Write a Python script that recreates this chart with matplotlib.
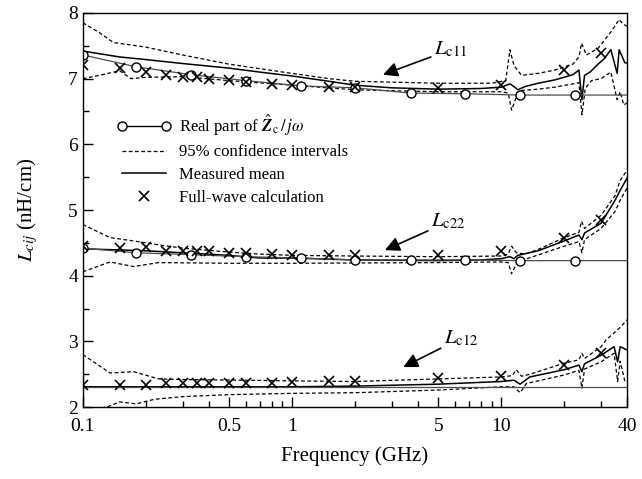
import numpy as np
import matplotlib
matplotlib.use("Agg")
import matplotlib.pyplot as plt
from matplotlib.ticker import FixedLocator, NullFormatter
from matplotlib.lines import Line2D
from matplotlib.legend_handler import HandlerLine2D

plt.rcParams['font.family'] = ['Liberation Serif', 'DejaVu Serif']
plt.rcParams['mathtext.fontset'] = 'stix'

# full-wave calculation frequencies (GHz)
f_fw = [0.1, 0.15, 0.2, 0.25, 0.3, 0.35, 0.4, 0.5, 0.6, 0.8, 1, 1.5, 2, 5, 10, 20, 30]
l11_fw = [7.21, 7.16, 7.10, 7.06, 7.03, 7.02, 7.00, 6.98, 6.95, 6.92, 6.90, 6.87, 6.87, 6.85, 6.90, 7.13, 7.39]
l22_fw = [4.45, 4.42, 4.44, 4.38, 4.38, 4.37, 4.37, 4.35, 4.34, 4.33, 4.32, 4.32, 4.32, 4.32, 4.37, 4.58, 4.85]
l12_fw = [2.33, 2.34, 2.34, 2.37, 2.37, 2.37, 2.37, 2.37, 2.37, 2.37, 2.38, 2.40, 2.40, 2.44, 2.48, 2.64, 2.83]

# real part of Zc/jw (circles), last point only extends the line
f_re = [0.1, 0.18, 0.33, 0.6, 1.1, 2.0, 3.7, 6.7, 12.3, 22.6, 40]
l11_re = [7.36, 7.18, 7.06, 6.97, 6.89, 6.86, 6.78, 6.77, 6.75, 6.75, 6.75]
l22_re = [4.42, 4.35, 4.32, 4.29, 4.27, 4.24, 4.24, 4.24, 4.23, 4.23, 4.23]
l12_re = [2.31, 2.31, 2.31, 2.31, 2.31, 2.31, 2.31, 2.31, 2.31, 2.31, 2.31]

# Lc11 measured mean and 95% confidence limits
f11_m = [0.1, 0.15, 0.2, 0.3, 0.5, 0.7, 1, 1.5, 2, 3, 5, 8, 10, 11, 11.5, 12, 13, 15, 18, 22, 23.5, 24.3,
         25, 26.6, 29, 31, 33.4, 35.8, 36.6, 39, 40]
l11_m = [7.42, 7.33, 7.29, 7.23, 7.16, 7.10, 7.04, 6.96, 6.90, 6.86, 6.84, 6.85, 6.87, 6.92, 6.88, 6.83, 6.88,
         6.93, 6.98, 7.06, 7.13, 6.68, 7.05, 7.10, 7.22, 7.30, 7.44, 7.08, 7.44, 7.24, 7.24]
f11_u = [0.1, 0.12, 0.14, 0.2, 0.3, 0.5, 1, 1.5, 2, 5, 9, 10.5, 11, 11.5, 12.5, 15, 18, 22, 23.5, 24.2, 25.5,
         29, 33.4, 36.6, 38.5, 40]
l11_u = [7.85, 7.70, 7.55, 7.48, 7.36, 7.22, 7.08, 7.00, 6.96, 6.93, 6.93, 6.97, 7.44, 7.20, 7.05, 7.08, 7.13,
         7.22, 7.33, 7.54, 7.36, 7.46, 7.71, 7.90, 7.82, 7.80]
f11_l = [0.1, 0.12, 0.15, 0.17, 0.2, 0.3, 0.5, 1, 2, 5, 10, 10.8, 11.2, 11.8, 12.5, 15, 18, 22, 23.5, 24.3,
         25.2, 27, 30, 33.4, 35.8, 37, 38.5, 40]
l11_l = [7.00, 7.05, 7.12, 7.00, 7.02, 7.03, 6.97, 6.90, 6.83, 6.80, 6.80, 6.78, 6.52, 6.72, 6.82, 6.84, 6.87,
         6.92, 6.94, 6.45, 6.85, 6.97, 7.00, 7.10, 6.68, 6.80, 6.60, 6.63]

# Lc22 measured mean and 95% confidence limits
f22_m = [0.1, 0.2, 0.5, 0.7, 1, 2, 5, 8, 10, 11, 11.5, 12, 15, 20, 23.5, 24.3, 25, 30, 35, 37, 40]
l22_m = [4.41, 4.38, 4.31, 4.27, 4.27, 4.24, 4.23, 4.24, 4.26, 4.29, 4.26, 4.31, 4.38, 4.53, 4.62, 4.55, 4.65,
         4.80, 5.15, 5.30, 5.49]
f22_u = [0.1, 0.135, 0.175, 0.23, 0.3, 0.5, 0.7, 1, 2, 5, 10, 10.8, 11.2, 11.8, 13, 15, 20, 23.5, 24.2, 25,
         30, 35, 37, 40]
l22_u = [4.78, 4.58, 4.53, 4.47, 4.42, 4.36, 4.33, 4.31, 4.30, 4.29, 4.30, 4.33, 4.45, 4.35, 4.33, 4.40, 4.58,
         4.66, 4.83, 4.72, 4.92, 5.22, 5.45, 5.61]
f22_l = [0.1, 0.135, 0.175, 0.23, 0.5, 1, 5, 10, 10.8, 11.2, 11.8, 13, 20, 23.5, 24.3, 25, 30, 35, 37, 40]
l22_l = [4.06, 4.21, 4.14, 4.20, 4.19, 4.19, 4.20, 4.21, 4.20, 4.03, 4.18, 4.25, 4.45, 4.52, 4.35, 4.55, 4.72,
         4.98, 5.15, 5.34]

# Lc12 measured mean and 95% confidence limits
f12_m = [0.1, 1, 2, 5, 10, 11.5, 12.3, 13.7, 20, 23.5, 24.3, 25, 30, 34.6, 36, 37, 40]
l12_m = [2.31, 2.31, 2.32, 2.35, 2.39, 2.41, 2.35, 2.46, 2.57, 2.64, 2.54, 2.66, 2.79, 2.92, 2.69, 2.92, 2.87]
f12_u = [0.1, 0.135, 0.175, 0.23, 0.3, 0.6, 1, 2, 5, 10, 11.3, 11.8, 12.5, 13.7, 20, 23.5, 24.3, 25,
         30, 31.6, 36.6, 40]
l12_u = [2.80, 2.52, 2.54, 2.43, 2.42, 2.41, 2.40, 2.39, 2.43, 2.46, 2.48, 2.57, 2.47, 2.50, 2.67, 2.72, 2.82,
         2.74, 2.92, 3.02, 3.20, 3.33]
f12_l = [0.1, 0.13, 0.15, 0.18, 0.22, 0.3, 0.5, 1, 2, 5, 10, 11.5, 12.3, 13.2, 20, 23.5, 24.3, 25, 30, 34.6,
         36, 37, 39, 40]
l12_l = [1.95, 2.00, 2.08, 2.05, 2.12, 2.16, 2.19, 2.21, 2.22, 2.26, 2.31, 2.31, 2.22, 2.36, 2.49, 2.56, 2.29,
         2.58, 2.69, 2.82, 2.39, 2.70, 2.39, 2.40]

fig = plt.figure(figsize=(6.42, 4.79), dpi=100)
ax = fig.add_axes([0.129, 0.150, 0.848, 0.823])

dash = dict(color='k', lw=0.9, ls=(0, (3, 2)))
for f, v in [(f11_u, l11_u), (f11_l, l11_l), (f22_u, l22_u), (f22_l, l22_l), (f12_u, l12_u), (f12_l, l12_l)]:
    ax.plot(f, v, **dash)

for f, v in [(f11_m, l11_m), (f22_m, l22_m), (f12_m, l12_m)]:
    ax.plot(f, v, color='k', lw=1.1)

for v, mk in [(l11_re, True), (l22_re, True), (l12_re, False)]:
    if mk:
        ax.plot(f_re, v, color='0.3', lw=0.9, marker='o', ms=6.5, mfc='white', mec='k', mew=1.0,
                markevery=list(range(len(f_re) - 1)))
    else:
        ax.plot(f_re, v, color='0.3', lw=0.9)

for v in [l11_fw, l22_fw, l12_fw]:
    ax.plot(f_fw, v, ls='none', marker='x', ms=7, mec='k', mew=1.2)

ax.set_xscale('log')
ax.set_xlim(0.1, 40)
ax.set_ylim(2, 8)
ax.xaxis.set_major_locator(FixedLocator([0.1, 0.5, 1, 5, 10, 40]))
ax.set_xticklabels(['0.1', '0.5', '1', '5', '10', '40'])
ax.xaxis.set_minor_locator(FixedLocator([0.2, 0.3, 0.4, 0.6, 0.7, 0.8, 0.9, 2, 3, 4, 6, 7, 8, 9, 20, 30]))
ax.xaxis.set_minor_formatter(NullFormatter())
ax.set_yticks([2, 3, 4, 5, 6, 7, 8])
ax.yaxis.set_minor_locator(FixedLocator([2.5, 3.5, 4.5, 5.5, 6.5, 7.5]))
ax.tick_params(which='both', direction='in', top=False, right=False, labelsize=14)
ax.tick_params(which='major', length=7, width=1)
ax.tick_params(which='minor', length=4, width=1)
ax.tick_params(axis='x', pad=8)
for s in ax.spines.values():
    s.set_linewidth(1.0)

ax.set_xlabel('Frequency (GHz)', fontsize=15, labelpad=8)
ax.set_ylabel('$L_{cij}$ (nH/cm)', fontsize=15, labelpad=20)

# annotations
arrow = dict(arrowstyle='-|>', color='k', lw=1.2, mutation_scale=22, shrinkA=0, shrinkB=0)
ax.annotate('$L_{\\mathrm{c11}}$', xy=(2.72, 7.06), xytext=(4.75, 7.44), fontsize=15,
            arrowprops=arrow, ha='left', va='center')
ax.annotate('$L_{\\mathrm{c22}}$', xy=(2.78, 4.39), xytext=(4.6, 4.82), fontsize=15,
            arrowprops=arrow, ha='left', va='center')
ax.annotate('$L_{\\mathrm{c12}}$', xy=(3.4, 2.61), xytext=(5.3, 3.05), fontsize=15,
            arrowprops=arrow, ha='left', va='center')

# legend
h_re = Line2D([], [], color='k', lw=1.0, marker='o', ms=6.5, mfc='white', mec='k')
h_ci = Line2D([], [], **dash)
h_mm = Line2D([], [], color='k', lw=1.1)
h_fw = Line2D([], [], ls='none', marker='x', ms=7, mec='k', mew=1.2)
ax.legend([h_re, h_ci, h_mm, h_fw],
          ['Real part of $\\hat{\\mathbfit{Z}}_{\\mathrm{c}}\\,/\\,j\\omega$', '95% confidence intervals',
           'Measured mean', 'Full-wave calculation'],
          handler_map={h_fw: HandlerLine2D(numpoints=1)}, numpoints=2,
          loc='upper left', bbox_to_anchor=(0.036, 0.785), frameon=False, fontsize=12,
          handlelength=3.2, handletextpad=0.5, labelspacing=0.4)

fig.savefig('out.png', dpi=100)
